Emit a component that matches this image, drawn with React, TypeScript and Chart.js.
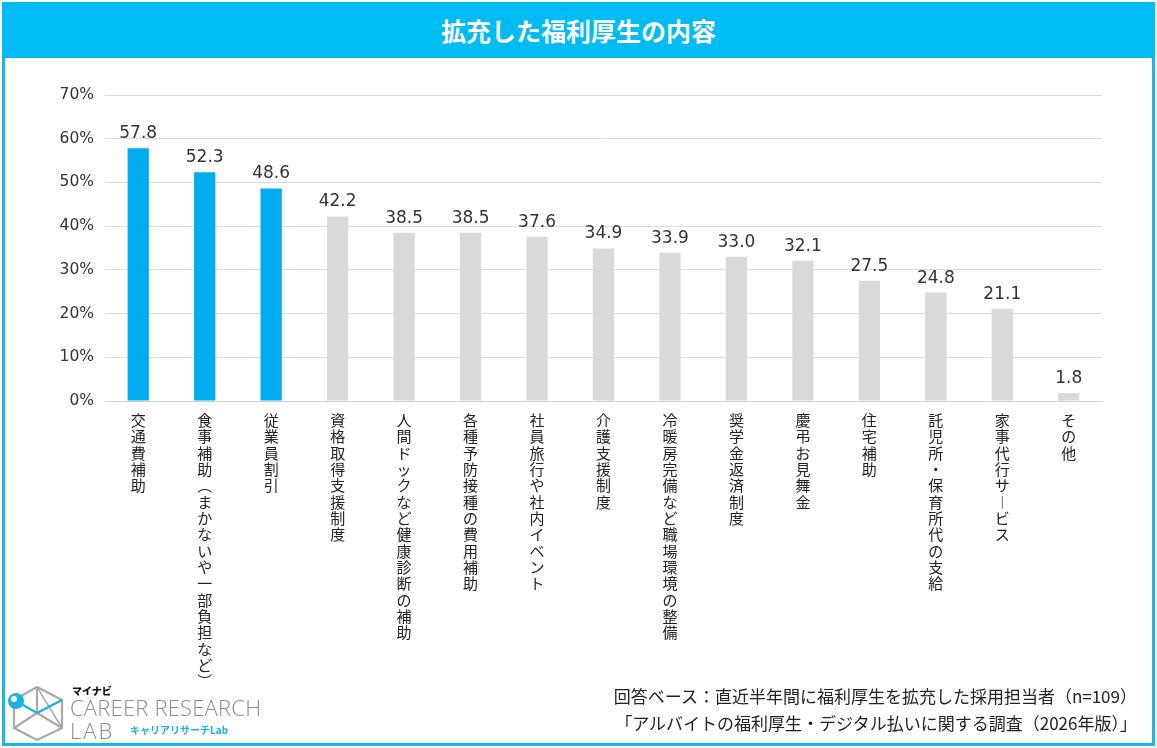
import React, { useEffect, useRef } from "react";
import { Chart, registerables } from "chart.js";

Chart.register(...registerables);

const title = "拡充した福利厚生の内容";

const categories = [
  "交通費補助",
  "食事補助(まかないや一部負担など)",
  "従業員割引",
  "資格取得支援制度",
  "人間ドックなど健康診断の補助",
  "各種予防接種の費用補助",
  "社員旅行や社内イベント",
  "介護支援制度",
  "冷暖房完備など職場環境の整備",
  "奨学金返済制度",
  "慶弔お見舞金",
  "住宅補助",
  "託児所・保育所代の支給",
  "家事代行サービス",
  "その他",
];

const values = [57.8, 52.3, 48.6, 42.2, 38.5, 38.5, 37.6, 34.9, 33.9, 33.0, 32.1, 27.5, 24.8, 21.1, 1.8];

const yTicks = [0, 10, 20, 30, 40, 50, 60, 70];

const footnotes = [
  "回答ベース：直近半年間に福利厚生を拡充した採用担当者（n=109）",
  "「アルバイトの福利厚生・デジタル払いに関する調査（2026年版）」",
];

const HIGHLIGHTED = 3;
const BLUE = "#00aeef";
const GRAY = "#d9d9d9";
const JP_FONT = '"Noto Sans CJK JP", "Noto Sans", sans-serif';
const NUM_FONT = '"DejaVu Sans", "Noto Sans", sans-serif';

// Vertical-writing forms for characters that rotate in tategaki
const verticalForms: Record<string, string> = {
  "(": "︵",
  ")": "︶",
  "ー": "︱",
};

const toVertical = (s: string) => Array.from(s).map((c) => verticalForms[c] ?? c);

const valueLabels = {
  id: "valueLabels",
  afterDatasetsDraw(chart: any) {
    const { ctx } = chart;
    const meta = chart.getDatasetMeta(0);
    ctx.save();
    ctx.font = `17px ${NUM_FONT}`;
    ctx.fillStyle = "#333333";
    ctx.textAlign = "center";
    ctx.textBaseline = "bottom";
    meta.data.forEach((bar: any, i: number) => {
      ctx.fillText(values[i].toFixed(1), bar.x, bar.y - 6);
    });
    ctx.restore();
  },
};

function Logo() {
  return (
    <div style={{ position: "absolute", left: 6, top: 683, width: 270, height: 60 }}>
      <svg width="62" height="60" style={{ position: "absolute", left: 0, top: 0 }}>
        <g fill="none" stroke="#a9a9a9" strokeWidth="2.2" strokeLinejoin="round">
          <polygon points="31,4 56,17 56,45 31,57 8,45 8,17" />
          <polyline points="31,4 31,30 56,45" />
          <polyline points="31,30 8,45" />
          <line x1="31" y1="4" x2="56" y2="45" strokeWidth="1.5" />
        </g>
        <line x1="10" y1="18" x2="31" y2="30" stroke="#1bb1e6" strokeWidth="2.2" />
        <line x1="31" y1="30" x2="56" y2="17" stroke="#1bb1e6" strokeWidth="2.2" />
        <circle cx="10" cy="18" r="8" fill="#1bb1e6" />
        <circle cx="8" cy="16" r="3" fill="#ffffff" />
      </svg>
      <div
        style={{
          position: "absolute",
          left: 66,
          top: 2,
          fontFamily: JP_FONT,
          fontWeight: 900,
          fontSize: 10,
          color: "#111",
          lineHeight: "12px",
        }}
      >
        マイナビ
      </div>
      <div
        style={{
          position: "absolute",
          left: 64,
          top: 12,
          fontFamily: '"Open Sans", "Noto Sans", sans-serif',
          fontWeight: 300,
          fontSize: 22,
          color: "#8c8c8c",
          lineHeight: "24px",
          letterSpacing: 0.2,
          whiteSpace: "nowrap",
        }}
      >
        CAREER RESEARCH
      </div>
      <div
        style={{
          position: "absolute",
          left: 64,
          top: 35,
          fontFamily: '"Open Sans", "Noto Sans", sans-serif',
          fontWeight: 300,
          fontSize: 22,
          color: "#8c8c8c",
          lineHeight: "24px",
          letterSpacing: 2,
        }}
      >
        LAB
      </div>
      <div
        style={{
          position: "absolute",
          left: 124,
          top: 41,
          fontFamily: JP_FONT,
          fontWeight: 700,
          fontSize: 10,
          color: "#1bb1e6",
          lineHeight: "12px",
          whiteSpace: "nowrap",
        }}
      >
        キャリアリサーチLab
      </div>
    </div>
  );
}

export default function App() {
  const canvasRef = useRef<HTMLCanvasElement | null>(null);

  useEffect(() => {
    const canvas = canvasRef.current;
    if (!canvas) return;
    const chart = new Chart(canvas, {
      type: "bar",
      data: {
        labels: categories.map(toVertical),
        datasets: [
          {
            data: values,
            backgroundColor: (c: any) => (c.dataIndex < HIGHLIGHTED ? BLUE : GRAY),
            borderWidth: 0,
            barPercentage: 0.32,
            categoryPercentage: 1,
          },
        ],
      },
      options: {
        animation: false,
        responsive: false,
        maintainAspectRatio: false,
        layout: { padding: { top: 95, right: 55, left: 0, bottom: 0 } },
        plugins: {
          legend: { display: false },
          tooltip: { enabled: false },
          title: { display: false },
        },
        scales: {
          x: {
            grid: { display: false, drawTicks: false },
            border: { display: true, color: "#d0d0d0", width: 1 },
            ticks: {
              autoSkip: false,
              maxRotation: 0,
              minRotation: 0,
              padding: 11,
              color: "#222222",
              font: { family: JP_FONT, size: 15, lineHeight: 1.09 },
            },
            afterFit(scale: any) {
              scale.height = 347;
            },
          },
          y: {
            min: 0,
            max: 70,
            afterBuildTicks(scale: any) {
              scale.ticks = yTicks.map((v) => ({ value: v }));
            },
            grid: { color: "#dcdcdc", lineWidth: 1, drawTicks: false },
            border: { display: false },
            ticks: {
              padding: 11,
              color: "#333333",
              font: { family: NUM_FONT, size: 15.5 },
              callback: (v: any) => `${v}%`,
            },
            afterFit(scale: any) {
              scale.width = 105;
            },
          },
        },
      },
      plugins: [valueLabels],
    });
    return () => chart.destroy();
  }, []);

  return (
    <div
      style={{
        position: "absolute",
        left: 0,
        top: 0,
        width: 1157,
        height: 748,
        background: "#ffffff",
        overflow: "hidden",
      }}
    >
      <canvas
        ref={canvasRef}
        width={1157}
        height={748}
        style={{ position: "absolute", left: 0, top: 0, width: 1157, height: 748 }}
      />
      <div
        style={{
          position: "absolute",
          left: 2,
          top: 2,
          width: 1147,
          height: 738,
          border: "3px solid #19b6ea",
          pointerEvents: "none",
        }}
      />
      <div
        style={{
          position: "absolute",
          left: 2,
          top: 2,
          width: 1153,
          height: 56,
          background: "#00bcf2",
          color: "#ffffff",
          fontFamily: JP_FONT,
          fontWeight: 700,
          fontSize: 25,
          lineHeight: "56px",
          textAlign: "center",
        }}
      >
        {title}
      </div>
      <Logo />
      <div
        style={{
          position: "absolute",
          right: 20,
          top: 682,
          fontFamily: JP_FONT,
          fontSize: 17,
          color: "#222222",
          textAlign: "right",
          lineHeight: "27px",
          whiteSpace: "nowrap",
        }}
      >
        {footnotes.map((t) => (
          <div key={t}>{t}</div>
        ))}
      </div>
    </div>
  );
}
